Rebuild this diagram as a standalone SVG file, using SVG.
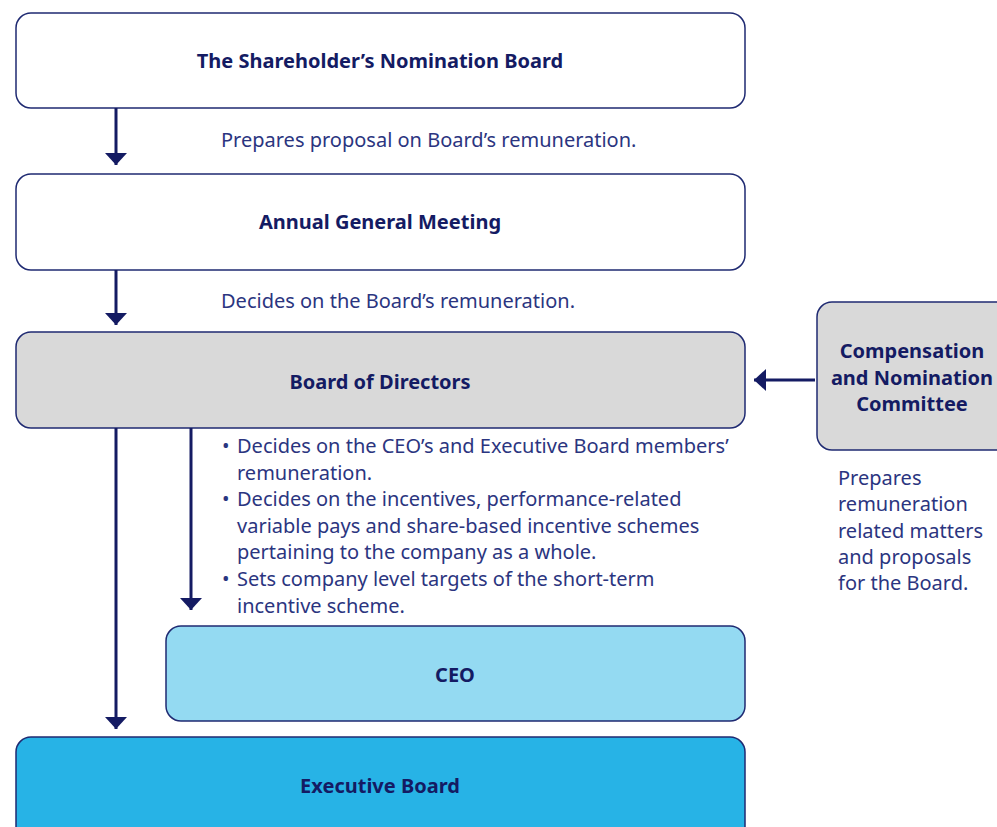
<svg xmlns="http://www.w3.org/2000/svg" width="997" height="827" viewBox="0 0 997 827">
  <defs>
    <!-- arrowhead drawn pointing along +x; orient="auto" turns it to the line direction -->
    <marker id="arrow" viewBox="0 0 12 22" refX="12" refY="11" markerWidth="12" markerHeight="22" markerUnits="userSpaceOnUse" orient="auto">
      <path d="M0,0 L12,11 L0,22 Z" fill="#141b63"/>
    </marker>
    <style>
      .box { stroke: #1f2a72; stroke-width: 1.5; }
      .title { font-family: "Noto Sans", "Open Sans", sans-serif; font-weight: bold; font-size: 20px; fill: #141b63; text-anchor: middle; }
      .body { font-family: "Noto Sans", "Open Sans", sans-serif; font-size: 20px; fill: #2b3580; }
      .conn { stroke: #141b63; stroke-width: 3; fill: none; }
    </style>
  </defs>

  <rect width="997" height="827" fill="#ffffff"/>

  <g id="nomination-board">
    <rect class="box" x="16" y="13" width="729" height="95" rx="15" fill="#ffffff"/>
    <text class="title" x="380" y="68">The Shareholder’s Nomination Board</text>
  </g>

  <g id="agm">
    <rect class="box" x="16" y="174" width="729" height="96" rx="15" fill="#ffffff"/>
    <text class="title" x="380" y="229">Annual General Meeting</text>
  </g>

  <g id="board-of-directors">
    <rect class="box" x="16" y="332" width="729" height="96" rx="15" fill="#d9d9d9"/>
    <text class="title" x="380" y="389">Board of Directors</text>
  </g>

  <g id="committee">
    <rect class="box" x="817" y="302" width="200" height="148" rx="15" fill="#d9d9d9"/>
    <text class="title" x="912" y="358">Compensation</text>
    <text class="title" x="912" y="385">and Nomination</text>
    <text class="title" x="912" y="411">Committee</text>
  </g>

  <g id="ceo">
    <rect class="box" x="166" y="626" width="579" height="95" rx="15" fill="#94daf2"/>
    <text class="title" x="455" y="682">CEO</text>
  </g>

  <g id="executive-board">
    <rect class="box" x="16" y="737" width="729" height="110" rx="15" fill="#27b3e6"/>
    <text class="title" x="380" y="793">Executive Board</text>
  </g>

  <g id="connectors">
    <line class="conn" x1="116" y1="108" x2="116" y2="165" marker-end="url(#arrow)"/>
    <line class="conn" x1="116" y1="270" x2="116" y2="325" marker-end="url(#arrow)"/>
    <line class="conn" x1="116" y1="428" x2="116" y2="729" marker-end="url(#arrow)"/>
    <line class="conn" x1="191" y1="428" x2="191" y2="610" marker-end="url(#arrow)"/>
    <line class="conn" x1="815" y1="380" x2="754" y2="380" marker-end="url(#arrow)"/>
  </g>

  <g id="labels">
    <text class="body" x="221" y="147">Prepares proposal on Board’s remuneration.</text>
    <text class="body" x="221" y="308">Decides on the Board’s remuneration.</text>
    <text class="body">
      <tspan x="222" y="453">•</tspan><tspan x="237" y="453">Decides on the CEO’s and Executive Board members’</tspan>
      <tspan x="237" y="479.6">remuneration.</tspan>
      <tspan x="222" y="506.2">•</tspan><tspan x="237" y="506.2">Decides on the incentives, performance-related</tspan>
      <tspan x="237" y="532.8">variable pays and share-based incentive schemes</tspan>
      <tspan x="237" y="559.4">pertaining to the company as a whole.</tspan>
      <tspan x="222" y="586">•</tspan><tspan x="237" y="586">Sets company level targets of the short-term</tspan>
      <tspan x="237" y="612.6">incentive scheme.</tspan>
    </text>
    <text class="body">
      <tspan x="838" y="485">Prepares</tspan>
      <tspan x="838" y="511.3">remuneration</tspan>
      <tspan x="838" y="537.6">related matters</tspan>
      <tspan x="838" y="563.9">and proposals</tspan>
      <tspan x="838" y="590.2">for the Board.</tspan>
    </text>
  </g>
</svg>
